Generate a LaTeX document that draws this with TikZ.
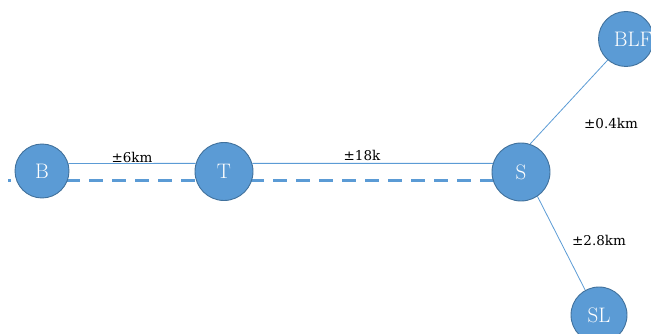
\documentclass[tikz,border=0pt]{standalone}
\usepackage{fontspec}
\newfontfamily\labelfont{DejaVu Serif}
\usetikzlibrary{backgrounds}
\definecolor{cityfill}{HTML}{5B9BD5}
\definecolor{cityrim}{HTML}{41719C}
\definecolor{roadblue}{HTML}{5B9BD5}
\tikzset{
  city/.style={circle, fill=cityfill, draw=cityrim, line width=0.9pt,
    inner sep=0pt, text=white, font=\fontsize{21}{21}\selectfont},
  road/.style={draw=roadblue, line width=0.8pt},
  rail/.style={draw=roadblue, line width=3pt, dash pattern=on 14pt off 9pt, dash phase=11pt},
  dist/.style={font=\labelfont\fontsize{13.5}{13.5}\selectfont, inner sep=0pt}
}
\begin{document}
\begin{tikzpicture}[x=1pt,y=-1pt]
  \useasboundingbox (0,0) rectangle (651,334);
  \clip (0,0) rectangle (651,334);
  % towns
  \node[city, minimum size=54pt] (B) at (42,171) {B};
  \node[city, minimum size=58pt] (T) at (224,171.5) {T};
  \node[city, minimum size=58pt] (S) at (521,172) {S};
  \node[city, minimum size=55pt] (BLF) at (626,39) {\hspace*{7pt}BLF\hspace*{-7pt}};
  \node[city, minimum size=56pt] (SL) at (599,315) {SL};
  % roads and rail line behind the towns
  \coordinate (W) at (8,181);
  \begin{scope}[on background layer]
    \draw[rail] (W) -- (W -| S);
    \draw[road] (B.16) -- (T.164);
    \draw[road] (T.16) -- (S.163);
    \draw[road] (S.72) -- (BLF.229);
    \draw[road] (S.304) -- (SL.119);
  \end{scope}
  % distances
  \node[dist] (dBT) at (132,157) {±6km};
  \node[dist] (dTS) at (362,155) {±18k};
  \node[dist] (dSB) at (611,123) {±0.4km};
  \node[dist] (dSS) at (599,240) {±2.8km};
\end{tikzpicture}
\end{document}
